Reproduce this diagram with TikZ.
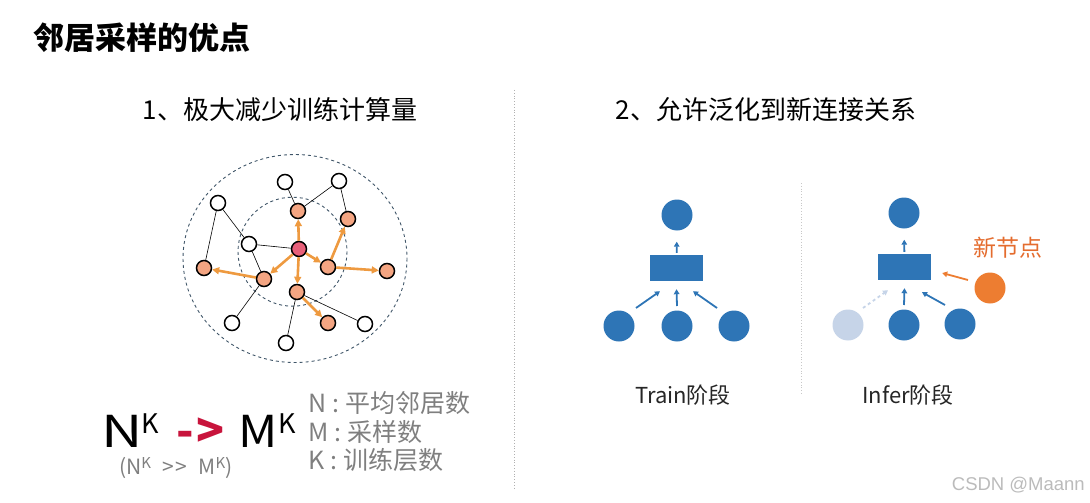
\documentclass[tikz,border=0pt]{standalone}
\usepackage{fontspec}
\setmainfont{Noto Sans CJK SC}
\newfontfamily\wmfont{Liberation Sans}
\usetikzlibrary{arrows.meta,calc}
\definecolor{nodeorange}{HTML}{F4A582}
\definecolor{nodered}{HTML}{E8607A}
\definecolor{arroworange}{HTML}{EE9A40}
\definecolor{ringcol}{HTML}{3F5568}
\definecolor{gblue}{HTML}{2E75B6}
\definecolor{glight}{HTML}{C6D4E8}
\definecolor{neworange}{HTML}{ED7D31}
\definecolor{newtext}{HTML}{E46C2E}
\definecolor{formred}{HTML}{C8143C}
\definecolor{labgray}{HTML}{7F7F7F}
\definecolor{wmgray}{HTML}{BBBBBB}
\definecolor{divgray}{HTML}{B0B0B0}
\newcommand{\smallsup}[1]{\raisebox{6pt}{\fontsize{15}{16}\selectfont #1}}
\begin{document}
\begin{tikzpicture}[x=1pt,y=-1pt,
  gnode/.style={circle,draw=black,line width=1.5pt,minimum size=15pt,inner sep=0pt},
  wnode/.style={gnode,fill=white},
  onode/.style={gnode,fill=nodeorange},
  cnode/.style={gnode,fill=nodered},
  thinedge/.style={draw=black,line width=0.6pt},
  oarrow/.style={draw=arroworange,line width=2.6pt,-{Triangle[length=7pt,width=7pt]}},
  ring/.style={draw=ringcol,line width=0.9pt,dashed},
  bcirc/.style={circle,fill=gblue,minimum size=31pt,inner sep=0pt},
  lcirc/.style={circle,fill=glight,minimum size=31pt,inner sep=0pt},
  ocirc/.style={circle,fill=neworange,minimum size=31pt,inner sep=0pt},
  brect/.style={rectangle,fill=gblue,minimum width=53pt,minimum height=26pt,inner sep=0pt},
  barrow/.style={draw=gblue,line width=1.8pt,-{Triangle[length=5pt,width=5.5pt]}},
  divider/.style={draw=divgray,line width=0.8pt,dotted},
  heading/.style={font=\fontsize{26}{30}\selectfont,text=black,inner sep=0pt},
  stage/.style={font=\fontsize{22}{26}\selectfont,text=black!85,inner sep=0pt},
  lab/.style={font=\fontsize{25}{28}\selectfont,text=labgray,inner sep=0pt,anchor=west},
  bigletter/.style={anchor=base west,inner sep=0pt,font=\fontsize{44}{50}\selectfont},
  supletter/.style={anchor=base west,inner sep=0pt,font=\fontsize{27}{30}\selectfont}
]
\useasboundingbox (0,0) rectangle (1090,503);

% title and headings
\node[anchor=west,inner sep=0pt,font=\fontsize{31}{36}\selectfont\bfseries] (title) at (33,38) {邻居采样的优点};
\node[heading] (h1) at (280,110) {1、极大减少训练计算量};
\node[heading] (h2) at (766,110) {2、允许泛化到新连接关系};

% dividers
\coordinate (d1a) at (514,90);
\coordinate (d1b) at (514,490);
\draw[divider] (d1a) -- (d1b);
\coordinate (d2a) at (801,183);
\coordinate (d2b) at (801,395);
\draw[divider,draw=divgray!70] (d2a) -- (d2b);

% left graph rings
\draw[ring] (295,258.5) ellipse [x radius=112, y radius=104];
\draw[ring] (292.5,251.7) circle [radius=54.5];

% left graph nodes
\node[wnode] (w1) at (285,182) {};
\node[wnode] (w2) at (339,181) {};
\node[wnode] (w3) at (218,203) {};
\node[onode] (o1) at (298,211) {};
\node[onode] (o2) at (348,219) {};
\node[wnode] (w4) at (249,244) {};
\node[cnode] (c)  at (299,249) {};
\node[onode] (o3) at (204,268) {};
\node[onode] (o4) at (328,267) {};
\node[onode] (o5) at (387,271) {};
\node[onode] (o6) at (264,279) {};
\node[onode] (o7) at (297,292) {};
\node[wnode] (w5) at (232,323) {};
\node[onode] (o8) at (328,323) {};
\node[wnode] (w6) at (365,324) {};
\node[wnode] (w7) at (286,343) {};

% thin edges
\draw[thinedge] (w1) -- (o1);
\draw[thinedge] (w2) -- (o1);
\draw[thinedge] (w2) -- (o2);
\draw[thinedge] (w3) -- (w4);
\draw[thinedge] (w3) -- (o3);
\draw[thinedge] (w4) -- (c);
\draw[thinedge] (w4) -- (o6);
\draw[thinedge] (o6) -- (w5);
\draw[thinedge] (o7) -- (w7);
\draw[thinedge] (o7) -- (w6);

% orange sampling arrows
\draw[oarrow] (c) -- (o1);
\draw[oarrow] (c) -- (o6);
\draw[oarrow] (c) -- (o4);
\draw[oarrow] (c) -- (o7);
\draw[oarrow] (o4) -- (o2);
\draw[oarrow] (o4) -- (o5);
\draw[oarrow] (o6) -- (o3);
\draw[oarrow] (o7) -- (o8);

% formula
\node[bigletter] (fN) at (101,447) {\scalebox{1.3}[1]{N}};
\node[supletter] (fNK) at (141,433) {K};
\node[anchor=base west,inner sep=0pt,font=\fontsize{46}{50}\selectfont\bfseries,text=formred] (farr) at (176,447) {-\kern3pt>};
\node[bigletter] (fM) at (238,447) {\scalebox{1.1}[1]{M}};
\node[supletter] (fMK) at (278,433) {K};
\node[anchor=base west,inner sep=0pt,font=\fontsize{21}{23}\selectfont,text=labgray] (fcmp) at (119,474) {(N\smallsup{K}\hspace{11pt}>\hspace{2pt}>\hspace{11pt}M\smallsup{K})};
\node[lab] (lN) at (308,403) {N\hspace{6pt}:\hspace{6pt}平均邻居数};
\node[lab] (lM) at (308,432) {M\hspace{6pt}:\hspace{6pt}采样数};
\node[lab] (lK) at (308,460) {K\hspace{6pt}:\hspace{6pt}训练层数};

% Train graph
\node[bcirc] (t1) at (677,215) {};
\node[brect] (r1) at (676.5,268) {};
\node[bcirc] (tb1) at (619,326) {};
\node[bcirc] (tb2) at (677,326) {};
\node[bcirc] (tb3) at (734,326) {};
\draw[barrow,shorten <=2pt,shorten >=11pt] (r1) -- (t1);
\draw[barrow] ($(tb1)+(17,-18)$) -- ($(r1.south)+(-16.5,10)$);
\draw[barrow] ($(tb2)+(0,-20)$) -- ($(r1.south)+(0,8)$);
\draw[barrow] ($(tb3)+(-17,-18)$) -- ($(r1.south)+(16.5,10)$);
\node[stage] (st1) at (683,395) {Train阶段};

% Infer graph
\node[bcirc] (i1) at (904,213) {};
\node[brect] (r2) at (904.5,267) {};
\node[lcirc] (ib1) at (848,325) {};
\node[bcirc] (ib2) at (904,325) {};
\node[bcirc] (ib3) at (960,324) {};
\node[ocirc] (inew) at (990,288) {};
\draw[barrow,shorten <=2pt,shorten >=11pt] (r2) -- (i1);
\draw[barrow,draw=glight,dashed] ($(ib1)+(15,-17)$) -- ($(r2.south)+(-16.5,10)$);
\draw[barrow] ($(ib2)+(0,-20)$) -- ($(r2.south)+(0,8)$);
\draw[barrow] ($(ib3)+(-15,-19)$) -- ($(r2.south)+(17.5,12)$);
\draw[barrow,draw=neworange] ($(inew)+(-22,-8)$) -- ($(r2.east)+(11,6)$);
\node[inner sep=0pt,font=\fontsize{23}{27}\selectfont,text=newtext] (newlab) at (1008,248) {新节点};
\node[stage] (st2) at (908,395) {Infer阶段};

% watermark
\node[anchor=east,inner sep=0pt,font=\wmfont\fontsize{18.5}{22}\selectfont,text=wmgray] (wm) at (1085,485) {CSDN @Maann};
\end{tikzpicture}
\end{document}
